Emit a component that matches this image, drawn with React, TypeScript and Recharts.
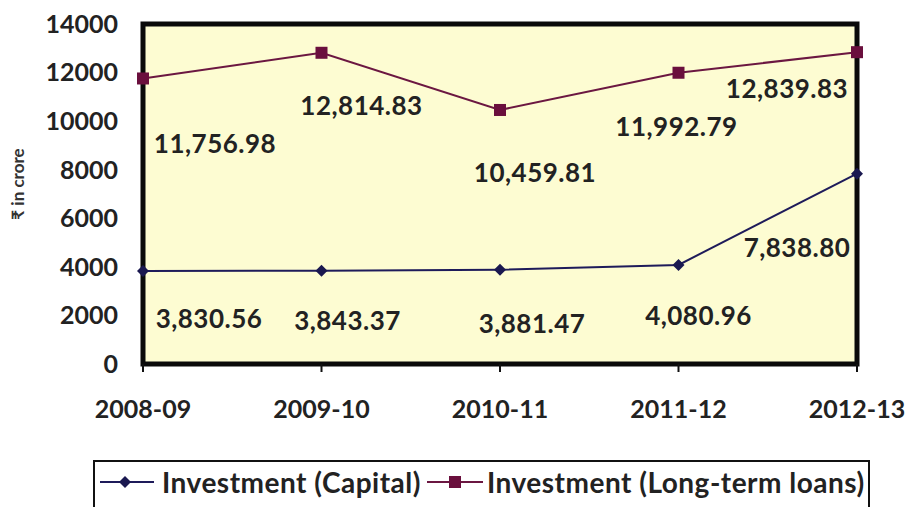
import React from 'react';
import { LineChart, Line, XAxis, YAxis, ReferenceArea, Legend, LabelList } from 'recharts';

const categories = ['2008-09', '2009-10', '2010-11', '2011-12', '2012-13'];
const capital = [3830.56, 3843.37, 3881.47, 4080.96, 7838.8];
const longTerm = [11756.98, 12814.83, 10459.81, 11992.79, 12839.83];
const yTicks = [0, 2000, 4000, 6000, 8000, 10000, 12000, 14000];

const seriesNames = ['Investment (Capital)', 'Investment (Long-term loans)'];

// label placement offsets (relative to point)
const capOffsets = [
  [66, 47],
  [26, 49],
  [32, 53],
  [20, 50],
  [-60, 73],
];
const ltOffsets = [
  [72, 65],
  [40, 52],
  [35, 62],
  [-2, 53],
  [-70, 36],
];

const data = categories.map((c, i) => ({ cat: c, capital: capital[i], longTerm: longTerm[i] }));

const FONT = 'Lato, "Noto Sans", sans-serif';
const CAP_COLOR = '#1e1b5a';
const LT_COLOR = '#6b1741';
const CAP_MARK = '#1a1850';
const LT_MARK = '#6a0f3d';

const fmt = (v: number) =>
  v.toLocaleString('en-US', { minimumFractionDigits: 2, maximumFractionDigits: 2 });

const makeLabel = (offsets: number[][]) => (props: any) => {
  const { x, y, index, value } = props;
  const [dx, dy] = offsets[index] || [0, 0];
  return (
    <text
      x={x + dx}
      y={y + dy}
      textAnchor="middle"
      dominantBaseline="central"
      fontFamily={FONT}
      fontWeight={700}
      fontSize={26}
      letterSpacing={0.5}
      fill="#222"
    >
      {fmt(Number(value))}
    </text>
  );
};

const Diamond = (props: any) => {
  const { cx, cy } = props;
  if (cx == null || cy == null) return null;
  const r = 6;
  return (
    <path
      d={`M${cx},${cy - r} L${cx + r},${cy} L${cx},${cy + r} L${cx - r},${cy} Z`}
      fill={CAP_MARK}
      stroke="none"
    />
  );
};

const Square = (props: any) => {
  const { cx, cy } = props;
  if (cx == null || cy == null) return null;
  const r = 6;
  return <rect x={cx - r} y={cy - r} width={2 * r} height={2 * r} fill={LT_MARK} stroke="none" />;
};

const LegendContent = () => (
  <div
    style={{
      boxSizing: 'border-box',
      width: 777,
      height: 60,
      border: '2px solid #111',
      background: '#fff',
      display: 'flex',
      alignItems: 'flex-start',
      paddingTop: 3,
      fontFamily: FONT,
      fontWeight: 700,
      fontSize: 28,
      letterSpacing: 0.5,
      color: '#222',
      whiteSpace: 'nowrap',
      lineHeight: '34px',
    }}
  >
    <svg width={54} height={24} style={{ marginLeft: 5, marginTop: 5 }}>
      <line x1={0} y1={12} x2={54} y2={12} stroke={CAP_COLOR} strokeWidth={2} />
      <path d="M25,6 L31,12 L25,18 L19,12 Z" fill={CAP_MARK} />
    </svg>
    <span style={{ marginLeft: 8 }}>{seriesNames[0]}</span>
    <svg width={56} height={24} style={{ marginLeft: 6, marginTop: 5 }}>
      <line x1={0} y1={12} x2={56} y2={12} stroke={LT_COLOR} strokeWidth={2} />
      <rect x={22} y={6} width={12} height={12} fill={LT_MARK} />
    </svg>
    <span style={{ marginLeft: 4 }}>{seriesNames[1]}</span>
  </div>
);

const YTitle = (props: any) => {
  const vb = props.viewBox || {};
  const cx = 17;
  const cy = (vb.y ?? 24) + (vb.height ?? 340) / 2 - 10;
  return (
    <text
      x={cx}
      y={cy}
      transform={`rotate(-90 ${cx} ${cy})`}
      textAnchor="middle"
      dominantBaseline="central"
      fontFamily={FONT}
      fontWeight={700}
      fontSize={17}
      fill="#333"
    >
      ₹ in crore
    </text>
  );
};

export default function App() {
  return (
    <div style={{ position: 'absolute', left: 0, top: 0, width: 908, height: 507, background: '#fff', overflow: 'hidden' }}>
      <LineChart
        width={908}
        height={507}
        data={data}
        margin={{ top: 24, right: 51, left: 0, bottom: 0 }}
      >
        <ReferenceArea
          x1={categories[0]}
          x2={categories[categories.length - 1]}
          y1={0}
          y2={14000}
          fill="#fdfcd2"
          fillOpacity={1}
          stroke="#0a0a0a"
          strokeWidth={5}
        />
        <XAxis
          dataKey="cat"
          axisLine={false}
          tickSize={8}
          tickLine={{ stroke: '#111', strokeWidth: 2 }}
          tickMargin={28}
          height={83}
          interval={0}
          tick={{ fontFamily: FONT, fontWeight: 700, fontSize: 25, fill: '#222' }}
        />
        <YAxis
          width={143}
          domain={[0, 14000]}
          ticks={yTicks}
          axisLine={false}
          tickLine={false}
          tickSize={0}
          tickMargin={25}
          interval={0}
          tick={{ fontFamily: FONT, fontWeight: 700, fontSize: 25, fill: '#222' }}
          label={<YTitle />}
        />
        <Line
          type="linear"
          dataKey="capital"
          name={seriesNames[0]}
          stroke={CAP_COLOR}
          strokeWidth={2}
          dot={<Diamond />}
          activeDot={false}
          isAnimationActive={false}
        >
          <LabelList dataKey="capital" content={makeLabel(capOffsets)} />
        </Line>
        <Line
          type="linear"
          dataKey="longTerm"
          name={seriesNames[1]}
          stroke={LT_COLOR}
          strokeWidth={2}
          dot={<Square />}
          activeDot={false}
          isAnimationActive={false}
        >
          <LabelList dataKey="longTerm" content={makeLabel(ltOffsets)} />
        </Line>
        <Legend
          verticalAlign="bottom"
          content={<LegendContent />}
          wrapperStyle={{ position: 'absolute', left: 93, top: 460, width: 777, height: 60 }}
        />
      </LineChart>
    </div>
  );
}
